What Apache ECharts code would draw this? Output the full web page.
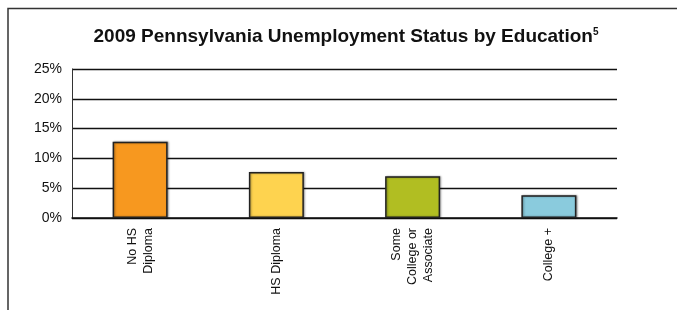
<!DOCTYPE html>
<html><head><meta charset="utf-8">
<script src="https://cdn.jsdelivr.net/npm/echarts@6/dist/echarts.min.js"></script>
<style>html,body{margin:0;padding:0;background:#fff}#c{width:677px;height:310px}</style>
</head><body><div id="c"></div>
<script>
const categories = ['No HS\nDiploma', 'HS Diploma', 'Some\nCollege or\nAssociate', 'College +'];
const values = [12.8, 7.7, 7.0, 3.8];
const barColors = ['#F7981F', '#FED34F', '#B1BE22', '#8ACBDD'];
const yTicks = [0, 5, 10, 15, 20, 25];

const chart = echarts.init(document.getElementById('c'), null, {renderer: 'canvas'});
chart.setOption({
  animation: false,
  backgroundColor: '#fff',
  title: {
    text: '2009 Pennsylvania Unemployment Status by Education{s|5}',
    left: 341, top: 22, textAlign: 'center',
    textStyle: {
      fontFamily: 'Liberation Sans, Arial', fontSize: 19, fontWeight: 'bold', color: '#111',
      rich: { s: { fontSize: 10, fontWeight: 'bold', verticalAlign: 'top', padding: [0,0,9,0], fontFamily: 'Liberation Sans, Arial', color: '#111' } }
    }
  },
  grid: { left: 72, right: 60, top: 69, bottom: 92, containLabel: false },
  xAxis: {
    type: 'category', data: categories,
    axisLine: { show: true, lineStyle: { color: '#111', width: 1.5 } },
    axisTick: { show: false },
    axisLabel: { rotate: 90, interval: 0, margin: 10, align: 'right', color: '#111', fontSize: 12.5, fontFamily: 'Liberation Sans, Arial', lineHeight: 16 }
  },
  yAxis: {
    type: 'value', min: 0, max: 25, interval: 5,
    axisLine: { show: true, lineStyle: { color: '#333', width: 1 } },
    axisTick: { show: false },
    splitLine: { lineStyle: { color: '#111', width: 1.3 } },
    axisLabel: { formatter: v => yTicks.includes(v) ? v + '%' : '', margin: 10, color: '#111', fontSize: 14, fontFamily: 'Liberation Sans, Arial' }
  },
  series: [{
    type: 'bar', barWidth: 55,
    data: values.map((v, i) => ({ value: v, itemStyle: { color: barColors[i] } })),
    itemStyle: { borderColor: '#222', borderWidth: 1.5, shadowColor: 'rgba(0,0,0,0.35)', shadowBlur: 2, shadowOffsetX: 1, shadowOffsetY: 0 }
  }],
  graphic: [{
    type: 'polyline', silent: true,
    shape: { points: [[8, 310], [8, 8.5], [677, 8.5]] },
    style: { stroke: '#333', lineWidth: 1.5, fill: null }
  }]
});
</script></body></html>
